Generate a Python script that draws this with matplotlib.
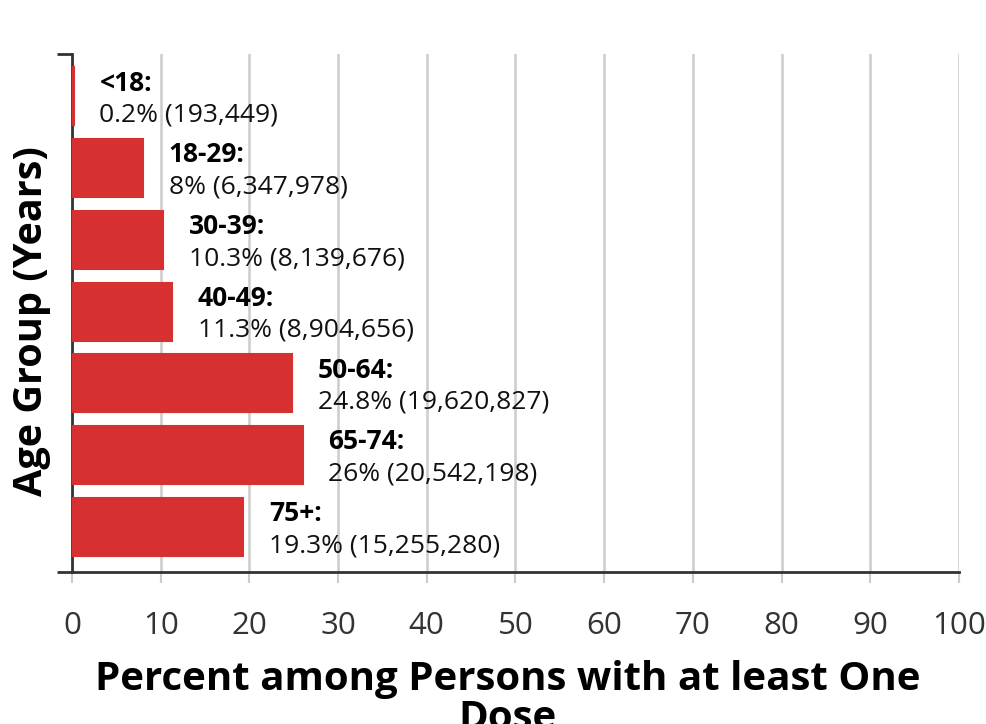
import matplotlib
matplotlib.use("Agg")
import matplotlib.pyplot as plt

plt.rcParams['font.family'] = ['Open Sans', 'DejaVu Sans']

age_groups = ["<18", "18-29", "30-39", "40-49", "50-64", "65-74", "75+"]
percents = [0.2, 8, 10.3, 11.3, 24.8, 26, 19.3]
counts = ["193,449", "6,347,978", "8,139,676", "8,904,656",
          "19,620,827", "20,542,198", "15,255,280"]
pct_text = ["0.2%", "8%", "10.3%", "11.3%", "24.8%", "26%", "19.3%"]

W, H = 987, 724
fig = plt.figure(figsize=(W / 100, H / 100), dpi=100)
ax = fig.add_axes([72 / W, 1 - 572 / H, (959 - 72) / W, (572 - 54) / H])

pos = list(range(len(age_groups)))
# bars sit over the left spine so the tiny <18 bar still shows
ax.barh(pos, percents, height=0.81, color='#d63031', zorder=3,
        linewidth=1.5, edgecolor='#d63031')

for i, (p, grp) in enumerate(zip(percents, age_groups)):
    ax.annotate(grp + ":", (p, i), xytext=(18.5, 9.5), textcoords='offset points',
                va='center', ha='left', fontsize=19, fontweight='bold', color='#000')
    ax.annotate(f"{pct_text[i]} ({counts[i]})", (p, i), xytext=(18.5, -13.5),
                textcoords='offset points', va='center', ha='left',
                fontsize=19, color='#111')

ax.set_xlim(0, 100)
ax.set_ylim(6.627, -0.588)
ax.set_xticks(range(0, 101, 10))
ax.tick_params(axis='x', direction='out', length=8, width=1.5, color='#cccccc',
               labelsize=22.5, labelcolor='#333333', pad=20)
ax.xaxis.grid(True, color='#cccccc', linewidth=1.8, zorder=0)

# outer ticks of the y axis at both ends
ax.set_yticks([-0.588, 6.627])
ax.set_yticklabels([])
ax.tick_params(axis='y', direction='out', length=11, width=2, color='#333333')

for s in ['top', 'right']:
    ax.spines[s].set_visible(False)
for s in ['left', 'bottom']:
    ax.spines[s].set_color('#333333')
    ax.spines[s].set_linewidth(2)
    ax.spines[s].set_zorder(2)
ax.spines['bottom'].set_zorder(4)

fig.text(32 / W, 1 - 321 / H, "Age Group (Years)", rotation=90, ha='center',
         va='center', fontsize=28.5, fontweight='bold', color='#000')
fig.text(508 / W, 1 - 690 / H, "Percent among Persons with at least One",
         ha='center', va='baseline', fontsize=29, fontweight='bold', color='#000')
fig.text(508 / W, 1 - 729 / H, "Dose",
         ha='center', va='baseline', fontsize=29, fontweight='bold', color='#000')

fig.savefig("out.png", dpi=100, facecolor='white')
